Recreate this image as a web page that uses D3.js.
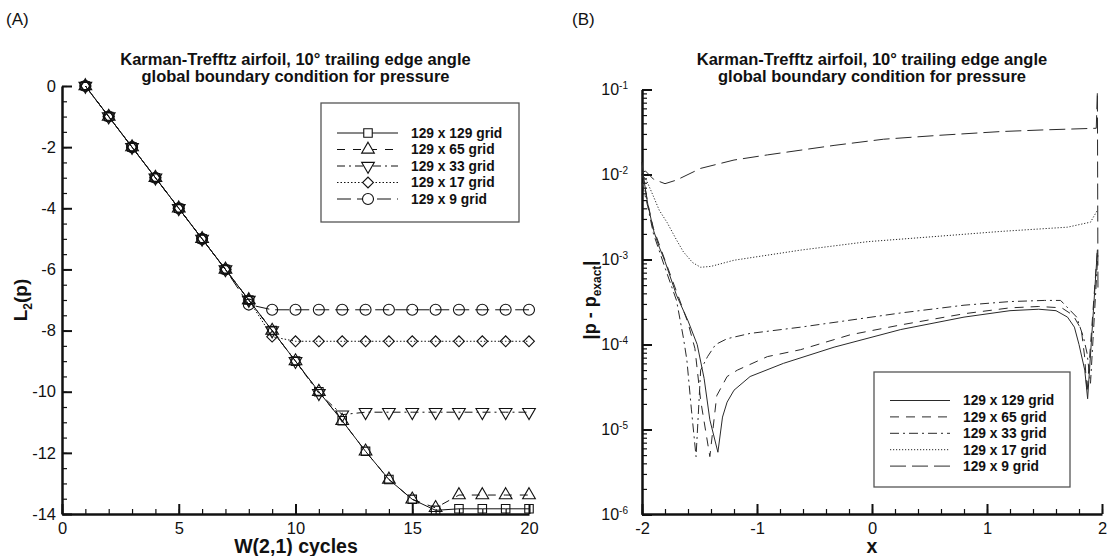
<!DOCTYPE html>
<html>
<head>
<meta charset="utf-8">
<script src="https://cdn.jsdelivr.net/npm/d3@7"></script>
<style>
  body { margin: 0; background: #fff; }
  svg { font-family: "Liberation Sans", Arial, Helvetica, sans-serif; }
</style>
</head>
<body>
<svg id="chart" width="1111" height="556"></svg>
<script>
/*
Two panels: L2 residual history (A) and pressure error along the surface (B).
*/

// ---------- data, panel A ----------
var cycles = [1, 2, 3, 4, 5, 6, 7, 8, 9, 10, 11, 12, 13, 14, 15, 16, 17, 18, 19, 20];
var l2Grid129 = [0, -1, -2, -3, -4, -5, -6, -7, -8, -9, -10, -10.95, -11.95, -12.87, -13.52, -13.88, -13.83, -13.83, -13.83, -13.83];
var l2Grid65 = [0, -1, -2, -3, -4, -5, -6, -7, -8, -9, -10, -10.95, -11.95, -12.87, -13.52, -13.8, -13.38, -13.38, -13.38, -13.38];
var l2Grid33 = [0, -1, -2, -3, -4, -5, -6, -7, -8, -9, -10.05, -10.75, -10.67, -10.67, -10.67, -10.67, -10.67, -10.67, -10.67, -10.67];
var l2Grid17 = [0, -1, -2, -3, -4, -5, -6, -7, -8.2, -8.35, -8.35, -8.35, -8.35, -8.35, -8.35, -8.35, -8.35, -8.35, -8.35, -8.35];
var l2Grid9 = [0, -1, -2, -3, -4, -5, -6, -7.15, -7.32, -7.32, -7.32, -7.32, -7.32, -7.32, -7.32, -7.32, -7.32, -7.32, -7.32, -7.32];

// ---------- data, panel B ----------
var xErr129 = [-2, -1.985, -1.95, -1.9, -1.85, -1.8, -1.7, -1.6, -1.52, -1.46, -1.41, -1.34, -1.3, -1.26, -1.2, -1.06, -0.77, -0.33, 0.25, 0.8, 1.2, 1.45, 1.6, 1.7, 1.76, 1.8, 1.85, 1.875, 1.96];
var err129 = [1.4e-2, 9e-3, 4.5e-3, 2.2e-3, 1.4e-3, 9.5e-4, 3.8e-4, 1.9e-4, 1e-4, 4e-5, 1.3e-5, 5.4e-6, 1.4e-5, 2.1e-5, 2.9e-5, 4.2e-5, 6e-5, 9.3e-5, 1.5e-4, 2.1e-4, 2.5e-4, 2.6e-4, 2.5e-4, 2.1e-4, 1.6e-4, 1e-4, 5e-5, 2.3e-5, 1.3e-3];

var xErr65 = [-2, -1.985, -1.95, -1.9, -1.8, -1.7, -1.6, -1.54, -1.49, -1.41, -1.35, -1.26, -1.17, -0.91, -0.62, -0.19, 0.25, 0.8, 1.2, 1.45, 1.65, 1.75, 1.82, 1.85, 1.87, 1.96];
var err65 = [1e-2, 8.5e-3, 4.6e-3, 2.3e-3, 9.8e-4, 4.2e-4, 1.8e-4, 9e-5, 2.2e-5, 4.8e-6, 2.5e-5, 4.2e-5, 5e-5, 7.2e-5, 8.7e-5, 1.3e-4, 1.7e-4, 2.3e-4, 2.7e-4, 2.8e-4, 2.7e-4, 2.2e-4, 1.5e-4, 7e-5, 2.7e-5, 1.3e-3];

var xErr33 = [-2, -1.95, -1.9, -1.8, -1.7, -1.64, -1.61, -1.57, -1.53, -1.49, -1.43, -1.36, -1.26, -1.06, -0.62, 0.25, 0.8, 1.2, 1.5, 1.64, 1.78, 1.84, 1.87, 1.9, 1.965];
var err33 = [8e-3, 4.2e-3, 2e-3, 8e-4, 3.3e-4, 1.2e-4, 6.6e-5, 1.7e-5, 4.8e-6, 5e-5, 7.2e-5, 1e-4, 1.17e-4, 1.35e-4, 1.6e-4, 2.35e-4, 2.9e-4, 3.2e-4, 3.3e-4, 3.3e-4, 2.1e-4, 1.2e-4, 7.9e-5, 3.5e-5, 1.2e-3];

var xErr17 = [-2, -1.96, -1.9, -1.85, -1.78, -1.7, -1.64, -1.56, -1.49, -1.4, -1.2, -0.62, -0.04, 0.54, 1.12, 1.7, 1.9, 1.96];
var err17 = [1e-2, 8.5e-3, 5.5e-3, 3.8e-3, 2.7e-3, 1.7e-3, 1.23e-3, 9.2e-4, 8.1e-4, 8.3e-4, 9.8e-4, 1.29e-3, 1.62e-3, 1.86e-3, 2.14e-3, 2.4e-3, 2.75e-3, 3.8e-3];

var xErr9 = [-2, -1.97, -1.9, -1.8, -1.7, -1.49, -1.2, -0.91, -0.33, 0.1, 0.6, 1.12, 1.5, 1.95, 1.96, 1.965];
var err9 = [1.05e-2, 1.1e-2, 8.8e-3, 7.8e-3, 8.6e-3, 1.18e-2, 1.48e-2, 1.7e-2, 2.2e-2, 2.6e-2, 2.9e-2, 3.2e-2, 3.35e-2, 3.5e-2, 9.5e-2, 4.2e-4];

var gridNames = ["129 x 129 grid", "129 x 65 grid", "129 x 33 grid", "129 x 17 grid", "129 x 9 grid"];

var svg = d3.select("#chart");
var ink = "#111";

function main() {
  var seriesA = [
    { name: gridNames[0], values: l2Grid129, dash: null, symbol: "square" },
    { name: gridNames[1], values: l2Grid65, dash: "8,8", symbol: "up" },
    { name: gridNames[2], values: l2Grid33, dash: "8,4,2,4", symbol: "down" },
    { name: gridNames[3], values: l2Grid17, dash: "1.5,2", symbol: "diamond" },
    { name: gridNames[4], values: l2Grid9, dash: "14,6", symbol: "circle" }
  ];
  var seriesB = [
    { name: gridNames[0], xs: xErr129, values: err129, dash: null },
    { name: gridNames[1], xs: xErr65, values: err65, dash: "9,7" },
    { name: gridNames[2], xs: xErr33, values: err33, dash: "9,4,2,4" },
    { name: gridNames[3], xs: xErr17, values: err17, dash: "1.2,1.8" },
    { name: gridNames[4], xs: xErr9, values: err9, dash: "16,6" }
  ];
  drawPanelA(seriesA);
  drawPanelB(seriesB);
}

// marker shapes used in panel A
function markerPath(kind) {
  if (kind === "square") return d3.symbol(d3.symbolSquare, 72)();
  if (kind === "up" || kind === "down") return d3.symbol(d3.symbolTriangle, 70)();
  if (kind === "diamond") return d3.symbol(d3.symbolSquare, 58)();
  return d3.symbol(d3.symbolCircle, 95)();
}
function markerRotate(kind) {
  if (kind === "down") return " rotate(180)";
  if (kind === "diamond") return " rotate(45)";
  return "";
}

function styleAxis(g, fontSize) {
  g.attr("font-size", null).attr("font-family", null);
  g.selectAll("text").attr("fill", ink).style("font-size", fontSize + "px");
  g.selectAll("line").attr("stroke", ink).attr("stroke-width", 2);
  g.select(".domain").attr("stroke", ink).attr("stroke-width", 2.5);
}

function minorAxis(axis, values, size) {
  return axis.tickValues(values).tickSize(-size).tickFormat("").tickSizeOuter(0);
}

// plain hyphen for negatives, like the original plot
function plainNumber(d) { return String(d); }

function titleLines(cx) {
  var t = svg.append("text")
    .attr("text-anchor", "middle")
    .attr("font-weight", "bold")
    .attr("font-size", "16.5px")
    .attr("fill", ink);
  t.append("tspan").attr("x", cx).attr("y", 65).text("Karman-Trefftz airfoil, 10° trailing edge angle");
  t.append("tspan").attr("x", cx).attr("y", 82).text("global boundary condition for pressure");
}

function drawPanelA(series) {
  var x = d3.scaleLinear().domain([0, 20]).range([62, 529]);
  var y = d3.scaleLinear().domain([-14, 0]).range([514, 86]);

  svg.append("text").attr("x", 6).attr("y", 25).attr("font-size", "17px").attr("fill", ink).text("(A)");
  titleLines((x.range()[0] + x.range()[1]) / 2);

  // minor ticks first, then majors with labels
  svg.append("g").attr("transform", "translate(0,514)")
    .call(minorAxis(d3.axisBottom(x), d3.range(0, 21, 1), 5))
    .call(function(g) { g.select(".domain").remove(); g.selectAll("line").attr("stroke", ink).attr("stroke-width", 1.2); });
  svg.append("g").attr("transform", "translate(62,0)")
    .call(minorAxis(d3.axisLeft(y), d3.range(-14, 0.1, 0.5), 5))
    .call(function(g) { g.select(".domain").remove(); g.selectAll("line").attr("stroke", ink).attr("stroke-width", 1.2); });

  svg.append("g").attr("transform", "translate(0,514)")
    .call(d3.axisBottom(x).tickValues([0, 5, 10, 15, 20]).tickSize(-10).tickSizeOuter(0).tickPadding(8).tickFormat(plainNumber))
    .call(function(g) { styleAxis(g, 16.5); });
  svg.append("g").attr("transform", "translate(62,0)")
    .call(d3.axisLeft(y).tickValues(d3.range(-14, 1, 2)).tickSize(-10).tickSizeOuter(0).tickPadding(6).tickFormat(plainNumber))
    .call(function(g) { styleAxis(g, 16.5); });

  svg.append("text").attr("x", 296).attr("y", 553).attr("text-anchor", "middle")
    .attr("font-weight", "bold").attr("font-size", "19.5px").attr("fill", ink).text("W(2,1) cycles");

  var yl = svg.append("text").attr("transform", "translate(27,300) rotate(-90)")
    .attr("text-anchor", "middle").attr("font-weight", "bold").attr("font-size", "19px").attr("fill", ink);
  yl.append("tspan").text("L");
  yl.append("tspan").attr("dy", 5).attr("font-size", "12px").text("2");
  yl.append("tspan").attr("dy", -5).text("(p)");

  var line = d3.line().x(function(d, i) { return x(cycles[i]); }).y(function(d) { return y(d); });

  series.forEach(function(s) {
    svg.append("path").datum(s.values)
      .attr("d", line)
      .attr("fill", "none").attr("stroke", ink).attr("stroke-width", 1)
      .attr("stroke-dasharray", s.dash);
    svg.append("g").selectAll("path").data(s.values).join("path")
      .attr("d", markerPath(s.symbol))
      .attr("transform", function(d, i) { return "translate(" + x(cycles[i]) + "," + y(d) + ")" + markerRotate(s.symbol); })
      .attr("fill", "none").attr("stroke", ink).attr("stroke-width", 1.1);
  });

  // legend
  var lg = svg.append("g");
  lg.append("rect").attr("x", 321).attr("y", 103).attr("width", 198).attr("height", 119)
    .attr("fill", "#fff").attr("stroke", "#555").attr("stroke-width", 1.3);
  series.forEach(function(s, i) {
    var cy = 133 + i * 16.5;
    lg.append("line").attr("x1", 337).attr("x2", 398).attr("y1", cy).attr("y2", cy)
      .attr("stroke", ink).attr("stroke-width", 1).attr("stroke-dasharray", s.dash);
    lg.append("path").attr("d", markerPath(s.symbol))
      .attr("transform", "translate(368," + cy + ")" + markerRotate(s.symbol))
      .attr("fill", "#fff").attr("stroke", ink).attr("stroke-width", 1.1);
    lg.append("text").attr("x", 411).attr("y", cy).attr("dy", "0.36em")
      .attr("font-weight", "bold").attr("font-size", "13.8px").attr("fill", ink).text(s.name);
  });
}

function drawPanelB(series) {
  var x = d3.scaleLinear().domain([-2, 2]).range([642, 1102]);
  var y = d3.scaleLog().domain([1e-6, 1e-1]).range([514.5, 89.5]);

  svg.append("text").attr("x", 572).attr("y", 25).attr("font-size", "17px").attr("fill", ink).text("(B)");
  titleLines((x.range()[0] + x.range()[1]) / 2);

  var decades = [1e-6, 1e-5, 1e-4, 1e-3, 1e-2, 1e-1];
  var minorY = y.ticks().filter(function(d) { return decades.indexOf(d) === -1; });

  svg.append("g").attr("transform", "translate(0,514)")
    .call(minorAxis(d3.axisBottom(x), d3.range(-2, 2.01, 0.2), 5))
    .call(function(g) { g.select(".domain").remove(); g.selectAll("line").attr("stroke", ink).attr("stroke-width", 1.2); });
  svg.append("g").attr("transform", "translate(642,0)")
    .call(minorAxis(d3.axisLeft(y), minorY, 5))
    .call(function(g) { g.select(".domain").remove(); g.selectAll("line").attr("stroke", ink).attr("stroke-width", 1.2); });

  svg.append("g").attr("transform", "translate(0,514)")
    .call(d3.axisBottom(x).tickValues([-2, -1, 0, 1, 2]).tickSize(-10).tickSizeOuter(0).tickPadding(8).tickFormat(plainNumber))
    .call(function(g) { styleAxis(g, 16.5); });
  svg.append("g").attr("transform", "translate(642,0)")
    .call(d3.axisLeft(y).tickValues(decades).tickSize(-10).tickSizeOuter(0).tickPadding(14).tickFormat(""))
    .call(function(g) {
      styleAxis(g, 16);
      // power-of-ten labels with superscript exponent
      g.selectAll(".tick text").each(function(d) {
        var t = d3.select(this).attr("text-anchor", "end");
        t.append("tspan").text("10");
        t.append("tspan").attr("dy", "-0.6em").style("font-size", "10px").text(Math.round(Math.log10(d)));
      });
    });

  svg.append("text").attr("x", 872).attr("y", 553).attr("text-anchor", "middle")
    .attr("font-weight", "bold").attr("font-size", "19.5px").attr("fill", ink).text("x");

  var yl = svg.append("text").attr("transform", "translate(596,300) rotate(-90)")
    .attr("text-anchor", "middle").attr("font-weight", "bold").attr("font-size", "18px").attr("fill", ink);
  yl.append("tspan").text("|p - p");
  yl.append("tspan").attr("dy", 5).attr("font-size", "12px").text("exact");
  yl.append("tspan").attr("dy", -5).text("|");

  var line = d3.line()
    .x(function(d) { return x(d[0]); })
    .y(function(d) { return y(d[1]); });

  series.forEach(function(s) {
    var pts = s.xs.map(function(v, i) { return [v, s.values[i]]; });
    svg.append("path").datum(pts)
      .attr("d", line)
      .attr("fill", "none").attr("stroke", "#2a2a2a").attr("stroke-width", 1)
      .attr("stroke-dasharray", s.dash);
  });

  var lg = svg.append("g");
  lg.append("rect").attr("x", 874).attr("y", 372).attr("width", 196).attr("height", 115)
    .attr("fill", "#fff").attr("stroke", "#555").attr("stroke-width", 1.3);
  series.forEach(function(s, i) {
    var cy = 400.5 + i * 16.4;
    lg.append("line").attr("x1", 890).attr("x2", 950).attr("y1", cy).attr("y2", cy)
      .attr("stroke", "#2a2a2a").attr("stroke-width", 1).attr("stroke-dasharray", s.dash);
    lg.append("text").attr("x", 963).attr("y", cy).attr("dy", "0.36em")
      .attr("font-weight", "bold").attr("font-size", "13.8px").attr("fill", ink).text(s.name);
  });
}

main();
</script>
</body>
</html>
